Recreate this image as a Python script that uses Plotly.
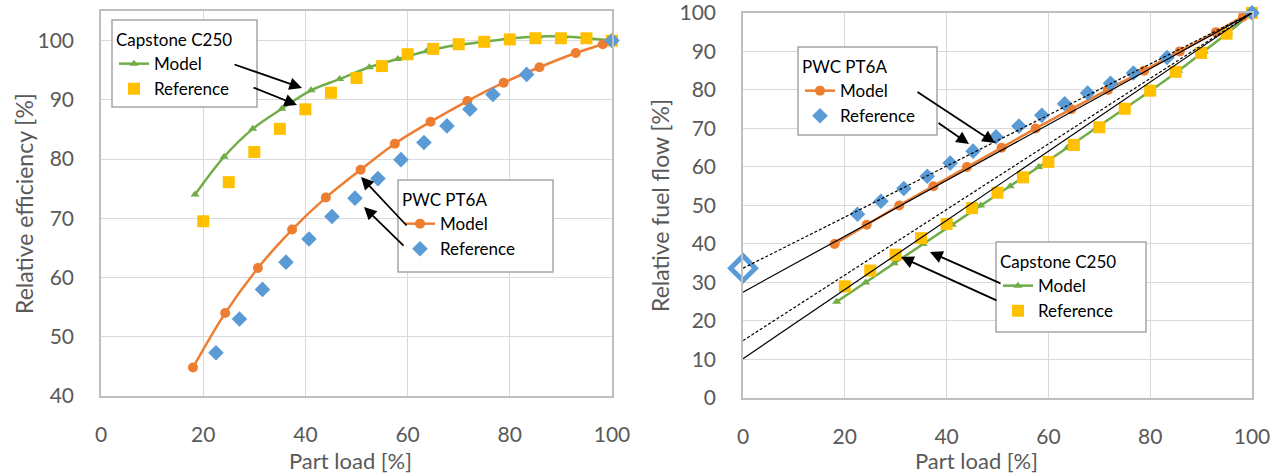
import plotly.graph_objects as go

W, H = 1281, 474

# ---------------- data ----------------
# Left chart: relative efficiency vs part load
cap_model_load = [18.4, 24.1, 29.7, 35.4, 41.1, 46.7, 52.5, 58.1, 63.7, 69.3, 74.9, 80.3, 85.6, 90.6, 95.4, 100]
cap_model_eff = [74.0, 80.4, 85.1, 88.5, 91.6, 93.5, 95.5, 96.9, 98.2, 99.2, 99.8, 100.4, 100.7, 100.7, 100.4, 100.0]
cap_ref_load = [20, 25, 30, 35, 40, 45, 50, 55, 60, 65, 70, 75, 80, 85, 90, 95, 100]
cap_ref_eff = [69.5, 76.1, 81.2, 85.1, 88.4, 91.2, 93.7, 95.7, 97.7, 98.6, 99.4, 99.8, 100.2, 100.4, 100.4, 100.4, 100.0]
pwc_model_load = [18.0, 24.3, 30.7, 37.4, 44.0, 50.8, 57.5, 64.5, 71.7, 78.8, 85.8, 92.9, 98.2, 100]
pwc_model_eff = [44.8, 54.0, 61.6, 68.1, 73.5, 78.2, 82.6, 86.3, 89.8, 92.9, 95.5, 97.9, 99.4, 100.0]
pwc_ref_load = [22.5, 27.1, 31.6, 36.2, 40.7, 45.2, 49.7, 54.2, 58.7, 63.2, 67.7, 72.2, 76.7, 83.3, 100]
pwc_ref_eff = [47.3, 53.0, 58.0, 62.6, 66.5, 70.3, 73.4, 76.7, 79.9, 82.8, 85.6, 88.4, 90.9, 94.3, 100.0]

# Right chart: relative fuel flow vs part load
cap_model_fuel = [25, 30, 35, 40, 45, 50, 55, 60, 65, 70, 75, 80, 85, 90, 95, 100]
cap_ref_fuel = [29.0, 33.1, 37.2, 41.5, 45.2, 49.3, 53.3, 57.3, 61.3, 65.7, 70.3, 75.1, 79.8, 84.7, 89.6, 94.6, 100]
pwc_model_fuel = [40, 45, 50, 55, 60, 65, 70, 75, 80, 85, 90, 95, 99.0, 100]
pwc_ref_fuel = [47.7, 51.1, 54.4, 57.6, 61.0, 64.1, 67.8, 70.6, 73.4, 76.4, 79.2, 81.7, 84.4, 88.4, 100]
pwc_idle_load = [0]
pwc_idle_fuel = [33.7]

# Linear trend lines (end points)
trend_x = [0, 100]
trend_pwc_model = [27.5, 100]
trend_pwc_ref = [33.7, 100]
trend_cap_model = [10.2, 100]
trend_cap_ref = [14.9, 100]

eff_ticks = [40, 50, 60, 70, 80, 90, 100]
fuel_ticks = [0, 10, 20, 30, 40, 50, 60, 70, 80, 90, 100]
load_ticks = [0, 20, 40, 60, 80, 100]

# ---------------- styles ----------------
GREEN, ORANGE, BLUE, YELLOW = "#70AD47", "#ED7D31", "#5B9BD5", "#FFC000"
FONT = "Lato"
GREY = "#595959"

def px(x, y):
    return x / W, 1 - y / H

fig = go.Figure()

def model_trace(x, y, color, symbol, size, xa, ya, legend, spline=True):
    return go.Scatter(x=x, y=y, mode="lines+markers", name="Model", cliponaxis=False,
                      line=dict(color=color, width=2.5, shape="spline" if spline else "linear"),
                      marker=dict(symbol=symbol, size=size, color=color),
                      xaxis=xa, yaxis=ya, legend=legend)

def ref_trace(x, y, color, symbol, size, xa, ya, legend):
    return go.Scatter(x=x, y=y, mode="markers", name="Reference", cliponaxis=False,
                      marker=dict(symbol=symbol, size=size, color=color),
                      xaxis=xa, yaxis=ya, legend=legend)

# left chart
fig.add_trace(model_trace(cap_model_load, cap_model_eff, GREEN, "triangle-up", 8, "x", "y", "legend"))
fig.add_trace(ref_trace(cap_ref_load, cap_ref_eff, YELLOW, "square", 12, "x", "y", "legend"))
fig.add_trace(model_trace(pwc_model_load, pwc_model_eff, ORANGE, "circle", 10, "x", "y", "legend2"))
fig.add_trace(ref_trace(pwc_ref_load, pwc_ref_eff, BLUE, "diamond", 12, "x", "y", "legend2"))

# right chart
fig.add_trace(model_trace(cap_model_load, cap_model_fuel, GREEN, "triangle-up", 8, "x2", "y2", "legend4", spline=False))
fig.add_trace(ref_trace(cap_ref_load, cap_ref_fuel, YELLOW, "square", 12, "x2", "y2", "legend4"))
fig.add_trace(model_trace(pwc_model_load, pwc_model_fuel, ORANGE, "circle", 10, "x2", "y2", "legend3", spline=False))
fig.add_trace(ref_trace(pwc_ref_load, pwc_ref_fuel, BLUE, "diamond", 12, "x2", "y2", "legend3"))
fig.add_trace(go.Scatter(x=pwc_idle_load, y=pwc_idle_fuel, mode="markers", showlegend=False,
                         cliponaxis=False,
                         marker=dict(symbol="diamond", size=19, color="white",
                                     line=dict(color=BLUE, width=5)),
                         xaxis="x2", yaxis="y2"))

for yv, dash in [(trend_pwc_model, "solid"), (trend_pwc_ref, "3px,2px"),
                 (trend_cap_model, "solid"), (trend_cap_ref, "3px,2px")]:
    fig.add_trace(go.Scatter(x=trend_x, y=yv, mode="lines", showlegend=False,
                             line=dict(color="black", width=1.2, dash=dash),
                             xaxis="x2", yaxis="y2"))

axis_common = dict(showgrid=True, gridcolor="#d9d9d9", gridwidth=1.3,
                   showline=True, linecolor="#bfbfbf", linewidth=1.5, mirror=True,
                   zeroline=False, ticks="", ticklabeloverflow="allow", automargin=False,
                   tickfont=dict(family=FONT, size=21, color=GREY))

fig.update_layout(
    width=W, height=H, margin=dict(l=0, r=0, t=0, b=0),
    paper_bgcolor="white", plot_bgcolor="white",
    font=dict(family=FONT),
    xaxis=dict(domain=[101 / W, 612 / W], range=[0, 100], tickvals=load_ticks,
               anchor="y", ticklabelstandoff=19, **axis_common),
    yaxis=dict(domain=[1 - 396 / H, 1 - 11 / H], range=[40, 105], tickvals=eff_ticks,
               anchor="x", ticklabelstandoff=21, **axis_common),
    xaxis2=dict(domain=[743 / W, 1252 / W], range=[0, 100], tickvals=load_ticks,
                anchor="y2", ticklabelstandoff=19, **axis_common),
    yaxis2=dict(domain=[1 - 398 / H, 1 - 12.7 / H], range=[0, 100.05], tickvals=fuel_ticks,
                anchor="x2", ticklabelstandoff=21, **axis_common),
)

# legend boxes (white frames) + legends without their own border
boxes = [("legend", "Capstone C250", (112, 20, 257, 107)),
         ("legend2", "PWC PT6A", (398, 180, 553, 272)),
         ("legend3", "PWC PT6A", (798, 47, 937, 135)),
         ("legend4", "Capstone C250", (996, 242, 1146, 332))]
for name, ttl, (x0, y0, x1, y1) in boxes:
    fig.add_shape(type="rect", xref="paper", yref="paper",
                  x0=x0 / W, x1=x1 / W, y0=1 - y0 / H, y1=1 - y1 / H,
                  line=dict(color="#a6a6a6", width=1.5), fillcolor="white", layer="above")
    lx, ly = px(x0 + 2, y0 + 4)
    fig.update_layout({name: dict(
        title=dict(text=ttl, font=dict(family=FONT, size=17, color="black")),
        x=lx, y=ly, xanchor="left", yanchor="top", xref="paper", yref="paper",
        bgcolor="rgba(0,0,0,0)", borderwidth=0, tracegroupgap=0,
        font=dict(family=FONT, size=17, color="black"), traceorder="normal")})

# axis titles
def title(text, x, y, size, angle=0):
    ax, ay = px(x, y)
    fig.add_annotation(text=text, x=ax, y=ay, xref="paper", yref="paper", showarrow=False,
                       textangle=angle, xanchor="center", yanchor="middle",
                       font=dict(family=FONT, size=size, color=GREY))

title("Part load [%]", 350, 460, 22)
title("Part load [%]", 976, 460, 22)
title("Relative efficiency [%]", 24, 204, 23, -90)
title("Relative fuel flow [%]", 660, 206, 23, -90)

# arrows (tail -> head, in pixels)
arrows = [
    ((233, 64), (302, 88)),
    ((252, 87), (297, 105)),
    ((408, 227), (361, 177)),
    ((405, 247), (364, 207)),
    ((916, 91), (995, 143)),
    ((937, 122), (969, 144)),
    ((1002, 284), (930, 252)),
    ((998, 301), (901, 257)),
]
for (tx, ty), (hx, hy) in arrows:
    x, y = px(hx, hy)
    fig.add_annotation(x=x, y=y, xref="paper", yref="paper", ax=tx - hx, ay=ty - hy,
                       axref="pixel", ayref="pixel", text="", showarrow=True,
                       arrowhead=2, arrowsize=1.4, arrowwidth=1.8, arrowcolor="black")

fig.write_html("out.html")
